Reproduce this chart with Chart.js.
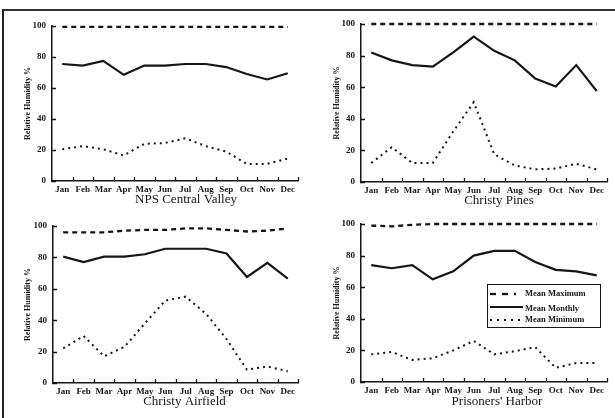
<!DOCTYPE html>
<html><head><meta charset="utf-8">
<script src="https://cdn.jsdelivr.net/npm/chart.js@4.4.0/dist/chart.umd.min.js"></script>
<style>
html,body{margin:0;padding:0;background:#fff;width:615px;height:418px;overflow:hidden;position:relative}
canvas{position:absolute}
#frame{position:absolute;left:2px;top:9px;width:700px;height:500px;border-left:2px solid #222;border-top:2px solid #333}
</style></head><body>
<div id="frame"></div>
<canvas id="c1" width="307" height="210" style="left:0;top:0"></canvas>
<canvas id="c2" width="308" height="210" style="left:307px;top:0"></canvas>
<canvas id="c3" width="307" height="208" style="left:0;top:210px"></canvas>
<canvas id="c4" width="308" height="208" style="left:307px;top:210px"></canvas>
<script>
const months = ['Jan','Feb','Mar','Apr','May','Jun','Jul','Aug','Sep','Oct','Nov','Dec'];
const yTicks = [0,20,40,60,80,100];
const seriesNames = ['Mean Maximum','Mean Monthly','Mean Minimum'];
const yAxisTitle = 'Relative Humidity %';
const stations = ['NPS Central Valley','Christy Pines','Christy Airfield',"Prisoners' Harbor"];

const centralValleyMax     = [99.5,99.5,99.5,99.5,99.5,99.5,99.5,99.5,99.5,99.5,99.5,99.5];
const centralValleyMonthly = [75.5,74.5,77.5,68.5,74.5,74.5,75.5,75.5,73.5,69,65.5,69.5];
const centralValleyMin     = [20.5,22.5,20.5,16.5,24,24.5,27.5,22.5,19,11,11,14.5];

const christyPinesMax      = [100,100,100,100,100,100,100,100,100,100,100,100];
const christyPinesMonthly  = [82,77,74,73,82,92,83,77,65.5,60.5,74,57.5];
const christyPinesMin      = [12,22,12,12,32,50.5,17.5,10.5,8,8.5,11.5,8];

const christyAirfieldMax     = [96,96,96,97,97.5,97.5,98.5,98.5,97.5,96.5,97,98.5];
const christyAirfieldMonthly = [80.5,77,80.5,80.5,82,85.5,85.5,85.5,82.5,67.5,76.5,66.5];
const christyAirfieldMin     = [22,30,17,23,38,52.5,55,44,28,8.5,10.5,7.5];

const prisonersHarborMax     = [99,98.5,99.5,100,100,100,100,100,100,100,100,100];
const prisonersHarborMonthly = [74,72,74,65,70,80,83,83,76,71,70,67.5];
const prisonersHarborMin     = [17.5,19,14,15,20,26,17.5,19.5,22,9,12,12];

const INK = '#151515';
const SERIF = "'Liberation Serif', 'DejaVu Serif', serif";

const axisMarks = {
  id: 'axisMarks',
  afterDraw(chart) {
    const ctx = chart.ctx, x = chart.scales.x, y = chart.scales.y, a = chart.chartArea;
    ctx.save();
    ctx.strokeStyle = INK; ctx.lineWidth = 1.3;
    const half = (x.getPixelForValue(1) - x.getPixelForValue(0)) / 2;
    ctx.beginPath();
    for (let i = 0; i < months.length; i++) {
      const px = Math.round(x.getPixelForValue(i) + half) + 0.5;
      ctx.moveTo(px, a.bottom); ctx.lineTo(px, a.bottom - 4);
    }
    yTicks.forEach(v => {
      const py = Math.round(y.getPixelForValue(v)) + 0.5;
      ctx.moveTo(a.left - 1, py); ctx.lineTo(a.left + 4, py);
    });
    ctx.stroke();
    ctx.restore();
  }
};

const panelTitle = {
  id: 'panelTitle',
  afterDraw(chart, args, o) {
    if (!o.text) return;
    const ctx = chart.ctx, a = chart.chartArea;
    ctx.save();
    ctx.fillStyle = INK;
    ctx.font = "13px " + SERIF;
    ctx.textAlign = 'center'; ctx.textBaseline = 'middle';
    ctx.fillText(o.text, (a.left + a.right) / 2 + o.dx, a.bottom + o.dy);
    ctx.restore();
  }
};

const boxLegend = {
  id: 'boxLegend',
  afterDraw(chart, args, o) {
    if (!o.show) return;
    const ctx = chart.ctx, a = chart.chartArea;
    const bx = a.right - 120, by = a.top + 60, bw = 113, bh = 43;
    ctx.save();
    ctx.fillStyle = '#fff';
    ctx.fillRect(bx, by, bw, bh);
    ctx.strokeStyle = INK; ctx.lineWidth = 1;
    ctx.strokeRect(bx + 0.5, by + 0.5, bw, bh);
    const samples = [[6,6],[],[2,5]];
    const lens = [26, 33, 30];
    chart.data.datasets.forEach((ds, i) => {
      const ly = by + 10 + i * 13;
      ctx.beginPath();
      ctx.setLineDash(samples[i]);
      ctx.lineWidth = ds.borderWidth;
      ctx.strokeStyle = INK;
      ctx.moveTo(bx + 3, ly); ctx.lineTo(bx + 3 + lens[i], ly);
      ctx.stroke();
      ctx.setLineDash([]);
      ctx.fillStyle = INK;
      ctx.font = "bold 8.5px " + SERIF;
      ctx.textAlign = 'left'; ctx.textBaseline = 'middle';
      ctx.fillText(ds.label, bx + 38, ly + (i === 1 ? 2 : 0));
    });
    ctx.restore();
  }
};

function makeChart(id, title, maxV, monthlyV, minV, L) {
  return new Chart(document.getElementById(id), {
    type: 'line',
    data: {
      labels: months,
      datasets: [
        { label: seriesNames[0], data: maxV, borderColor: INK, borderWidth: 2.3, borderDash: [5,4], pointRadius: 0, fill: false, tension: 0, clip: false },
        { label: seriesNames[1], data: monthlyV, borderColor: INK, borderWidth: 2.2, pointRadius: 0, fill: false, tension: 0, clip: false },
        { label: seriesNames[2], data: minV, borderColor: INK, borderWidth: 2, borderDash: [2,4], pointRadius: 0, fill: false, tension: 0, clip: false }
      ]
    },
    options: {
      responsive: false, animation: false, devicePixelRatio: 1,
      layout: { padding: { top: L.top, right: L.right, left: 0, bottom: 0 } },
      plugins: {
        legend: { display: false }, tooltip: { enabled: false },
        panelTitle: { text: title, dx: L.dx, dy: L.dy },
        boxLegend: { show: !!L.legend }
      },
      scales: {
        x: {
          type: 'category', offset: true,
          grid: { display: false, drawTicks: false },
          border: { display: true, color: INK, width: 1.5 },
          ticks: { color: INK, font: { family: SERIF, weight: 'bold', size: 9 }, padding: 3, maxRotation: 0, autoSkip: false },
          afterFit(s) { s.height = L.xh; }
        },
        y: {
          min: 0, max: 100,
          afterBuildTicks(s) { s.ticks = yTicks.map(v => ({ value: v })); },
          grid: { display: false, drawTicks: false },
          border: { display: true, color: INK, width: 1.5 },
          ticks: { color: INK, font: { family: SERIF, weight: 'bold', size: 9 }, padding: 6 },
          title: { display: true, text: yAxisTitle, color: INK, font: { family: SERIF, weight: 'bold', size: 8 }, padding: { top: L.tp, bottom: 0 } },
          afterFit(s) { s.width = L.yw; }
        }
      }
    },
    plugins: [axisMarks, panelTitle, boxLegend]
  });
}

makeChart('c1', stations[0], centralValleyMax, centralValleyMonthly, centralValleyMin, { top: 26, right: 9, yw: 52, xh: 29, tp: 23, dx: 11, dy: 19 });
makeChart('c2', stations[1], christyPinesMax, christyPinesMonthly, christyPinesMin, { top: 24, right: 8, yw: 54, xh: 28, tp: 25, dx: 15, dy: 19 });
makeChart('c3', stations[2], christyAirfieldMax, christyAirfieldMonthly, christyAirfieldMin, { top: 16, right: 9, yw: 53, xh: 35, tp: 23, dx: 9, dy: 19 });
makeChart('c4', stations[3], prisonersHarborMax, prisonersHarborMonthly, prisonersHarborMin, { top: 14, right: 8, yw: 54, xh: 36, tp: 25, dx: 13, dy: 20, legend: true });
</script>
</body></html>
